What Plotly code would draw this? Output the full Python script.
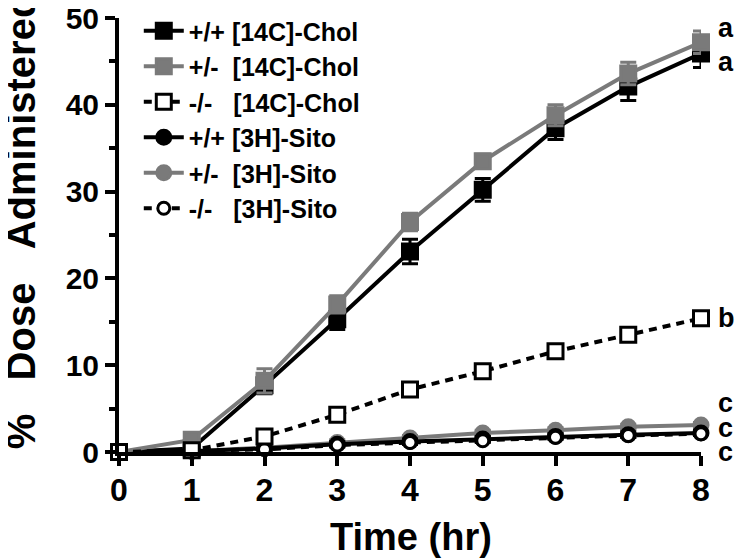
import plotly.graph_objects as go

time_hr = [0, 1, 2, 3, 4, 5, 6, 7, 8]

chol_wt = [0, 0.4, 7.7, 15.3, 23.1, 30.2, 37.3, 42.1, 45.9]
chol_wt_err = [0, 0.4, 1.0, 1.2, 1.4, 1.3, 1.3, 1.6, 1.6]
chol_het = [0, 1.4, 8.2, 17.0, 26.5, 33.5, 38.8, 43.6, 47.2]
chol_het_err = [0, 0.6, 1.4, 1.0, 1.0, 0.8, 1.2, 1.3, 1.3]
chol_ko = [0, 0.2, 1.8, 4.3, 7.2, 9.3, 11.6, 13.5, 15.4]
chol_ko_err = [0, 0.2, 0.3, 0.4, 0.4, 0.5, 0.5, 0.5, 0.4]

sito_wt = [0, 0.1, 0.4, 0.9, 1.2, 1.5, 1.8, 2.0, 2.2]
sito_wt_err = [0, 0.1, 0.2, 0.3, 0.3, 0.3, 0.3, 0.3, 0.3]
sito_het = [0, 0.1, 0.5, 1.1, 1.6, 2.2, 2.5, 2.9, 3.1]
sito_het_err = [0, 0.1, 0.2, 0.3, 0.3, 0.3, 0.3, 0.3, 0.3]
sito_ko = [0, 0.1, 0.3, 0.8, 1.1, 1.3, 1.7, 1.9, 2.1]
sito_ko_err = [0, 0.1, 0.2, 0.2, 0.2, 0.2, 0.2, 0.2, 0.2]

legend_names = [
    "+/+ [14C]-Chol",
    "+/-\u00a0\u00a0[14C]-Chol",
    "-/-\u00a0\u00a0\u00a0[14C]-Chol",
    "+/+ [3H]-Sito",
    "+/-\u00a0\u00a0[3H]-Sito",
    "-/-\u00a0\u00a0\u00a0[3H]-Sito",
]

sig_letters = ["a", "a", "b", "c", "c", "c"]
sig_y = [48.8, 44.9, 15.4, 5.6, 2.8, 0.0]

BLACK = "#000000"
GRAY = "#7a7a7a"
FONT = "Liberation Sans, Arial, sans-serif"

fig = go.Figure()


def add(y, err, name, rank, color, symbol, size, fill, dash):
    fig.add_trace(go.Scatter(
        x=time_hr, y=y, name=name, mode="lines+markers",
        legendrank=rank,
        line=dict(color=color, width=4, dash=dash),
        marker=dict(symbol=symbol, size=size, color=fill,
                    line=dict(color=color, width=3)),
        error_y=dict(type="data", array=err, visible=True, color=color,
                     thickness=3, width=8),
        cliponaxis=False,
    ))


add(sito_het, sito_het_err, legend_names[4], 5, GRAY, "circle", 14, GRAY, "solid")
add(sito_wt, sito_wt_err, legend_names[3], 4, BLACK, "circle", 14, BLACK, "solid")
add(sito_ko, sito_ko_err, legend_names[5], 6, BLACK, "circle", 12, "white", "8px,6px")
add(chol_wt, chol_wt_err, legend_names[0], 1, BLACK, "square", 15, BLACK, "solid")
add(chol_het, chol_het_err, legend_names[1], 2, GRAY, "square", 15, GRAY, "solid")
add(chol_ko, chol_ko_err, legend_names[2], 3, BLACK, "square", 15, "white", "8px,6px")

for letter, yv in zip(sig_letters, sig_y):
    fig.add_annotation(x=8, y=yv, xref="x", yref="y", text=letter,
                       showarrow=False, xanchor="left", yanchor="middle",
                       xshift=15, font=dict(family=FONT, size=27, color="black",
                                            weight="bold"))

fig.add_annotation(x=-0.168, y=0.532, xref="paper", yref="paper",
                   xanchor="center", yanchor="middle",
                   text="%\u00a0\u00a0\u00a0Dose\u00a0\u00a0\u00a0Administered",
                   textangle=-90, showarrow=False,
                   font=dict(family=FONT, size=40, color="black", weight="bold"))
fig.add_annotation(x=0.502, y=-0.196, xref="paper", yref="paper",
                   xanchor="center", yanchor="middle",
                   text="Time (hr)", showarrow=False,
                   font=dict(family=FONT, size=38, color="black", weight="bold"))

fig.update_layout(
    width=738, height=550,
    margin=dict(l=111, r=45, t=10, b=106, autoexpand=False),
    paper_bgcolor="white", plot_bgcolor="white",
    showlegend=True,
    legend=dict(x=0.034, y=1.023, xanchor="left", yanchor="top",
                bgcolor="rgba(0,0,0,0)",
                font=dict(family=FONT, size=25, color="black", weight="bold"),
                itemwidth=40),
    xaxis=dict(range=[0, 8], tickvals=time_hr, ticks="outside", ticklen=10,
               tickwidth=4, tickcolor="black", showline=True, linewidth=4,
               linecolor="black", showgrid=False, zeroline=False, automargin=False,
               ticklabelstandoff=-3, ticklabeloverflow="allow",
               tickfont=dict(family=FONT, size=32, color="black", weight="bold")),
    yaxis=dict(range=[0, 50], tickvals=[0, 10, 20, 30, 40, 50], ticks="outside",
               ticklen=10, tickwidth=4, tickcolor="black", showline=True,
               linewidth=4, linecolor="black", showgrid=False, zeroline=False,
               automargin=False, ticklabeloverflow="allow",
               minor=dict(tickvals=[5, 15, 25, 35, 45], ticks="outside",
                          ticklen=6, tickwidth=4, tickcolor="black"),
               tickfont=dict(family=FONT, size=30, color="black", weight="bold")),
)

fig.write_html("out.html")
